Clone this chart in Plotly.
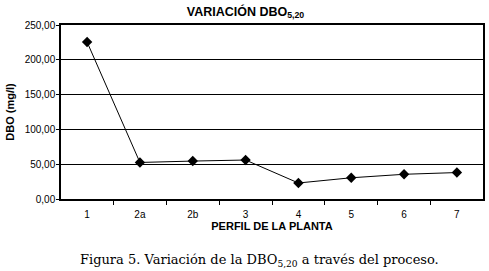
import plotly.graph_objects as go

categories = ["1", "2a", "2b", "3", "4", "5", "6", "7"]
dbo_values = [225.5, 52.5, 54.5, 56.0, 23.0, 30.5, 35.5, 38.0]
y_ticks = [0, 50, 100, 150, 200, 250]

fig = go.Figure()
fig.add_trace(go.Scatter(
    x=categories, y=dbo_values, mode="lines+markers",
    line=dict(color="black", width=1),
    marker=dict(symbol="diamond", size=8, color="black"),
    showlegend=False,
))

fig.update_layout(
    width=489, height=271,
    margin=dict(l=61, r=6, t=25, b=72),
    paper_bgcolor="white", plot_bgcolor="white",
    separators=",.",
    font=dict(family="Liberation Sans, Arial", size=10, color="black"),
    title=dict(
        text="<b>VARIACIÓN DBO<sub>5,20</sub></b>",
        x=0.502, xanchor="center", y=0.958, yanchor="middle",
        font=dict(family="Liberation Sans, Arial", size=12.5, color="black"),
    ),
    xaxis=dict(
        type="category", tickson="boundaries", ticks="outside", ticklen=4,
        tickcolor="black", showline=True, linecolor="black", linewidth=1.5,
        mirror=True, showgrid=False, automargin=False,
        title=dict(text="<b>PERFIL DE LA PLANTA</b>", standoff=4,
                   font=dict(size=11, family="Liberation Sans, Arial")),
        tickfont=dict(size=10), ticklabelstandoff=5,
    ),
    yaxis=dict(
        range=[0, 250], tickvals=y_ticks, tickformat=".2f",
        ticks="outside", ticklen=3, tickcolor="black", automargin=False,
        showline=True, linecolor="black", linewidth=1.5, mirror=True,
        showgrid=True, gridcolor="black", gridwidth=1, zeroline=False,
        title=dict(text="<b>DBO (mg/l)</b>", standoff=8,
                   font=dict(size=11, family="Liberation Sans, Arial")),
        tickfont=dict(size=10), ticklabelstandoff=-1,
    ),
    annotations=[dict(
        text="Figura 5. Variación de la DBO<sub>5,20</sub> a través del proceso.",
        xref="paper", yref="paper", x=0.47, y=0.0, xanchor="center",
        yanchor="middle", yshift=-61, showarrow=False,
        font=dict(family="DejaVu Serif", size=13, color="black"),
    )],
)

fig.write_html("out.html", config={"displayModeBar": False},
               post_script="document.body.style.margin='0';")
